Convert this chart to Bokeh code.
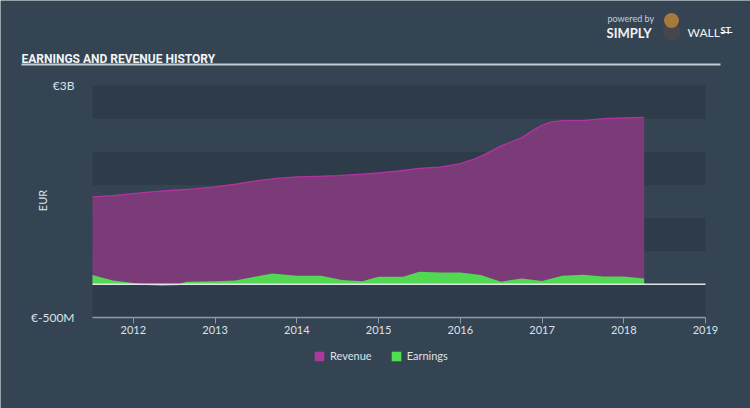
import numpy as np
from bokeh.plotting import figure
from bokeh.models import Range1d, FixedTicker, BoxAnnotation, Legend, LegendItem
from bokeh.core.properties import value
from bokeh.embed import file_html
from bokeh.resources import INLINE

# ---- data (EUR billions) ----
rev_t = [2011.5, 2011.75, 2012.0, 2012.25, 2012.5, 2012.75, 2013.0, 2013.25, 2013.5,
         2013.75, 2014.0, 2014.25, 2014.5, 2014.75, 2015.0, 2015.25, 2015.5, 2015.75,
         2016.0, 2016.15, 2016.3, 2016.5, 2016.75, 2016.9, 2017.0, 2017.12, 2017.25,
         2017.5, 2017.75, 2018.0, 2018.25]
revenue = [1.32, 1.34, 1.37, 1.40, 1.42, 1.44, 1.47, 1.51, 1.56,
           1.60, 1.62, 1.63, 1.64, 1.66, 1.68, 1.71, 1.75, 1.77,
           1.82, 1.88, 1.96, 2.09, 2.21, 2.33, 2.40, 2.45, 2.47,
           2.47, 2.50, 2.51, 2.52]

earn_t = [2011.5, 2011.75, 2012.0, 2012.15, 2012.35, 2012.55, 2012.65, 2013.0, 2013.25,
          2013.5, 2013.7, 2014.0, 2014.3, 2014.55, 2014.8, 2015.0, 2015.3, 2015.5,
          2015.75, 2016.0, 2016.25, 2016.5, 2016.75, 2017.0, 2017.25, 2017.5, 2017.75,
          2018.0, 2018.25]
earnings = [0.14, 0.06, 0.02, -0.01, -0.025, -0.015, 0.04, 0.045, 0.06,
            0.12, 0.165, 0.13, 0.13, 0.065, 0.045, 0.115, 0.115, 0.19,
            0.18, 0.18, 0.14, 0.04, 0.09, 0.05, 0.13, 0.145, 0.12,
            0.12, 0.09]

x_start, x_end = 2011.5, 2019.0
y_min, y_max = -0.5, 3.0
year_ticks = [2012, 2013, 2014, 2015, 2016, 2017, 2018, 2019]
y_ticks = [-0.5, 3.0]
y_tick_labels = {-0.5: "€-500M", 3.0: "€3B"}
band_bottoms = [2.5, 1.5, 0.5, -0.5]

BG = "#344453"
DARK = "#2e3c4a"
TXT = "#dde2e7"

# ---- layout (canvas pixels); the frame covers the whole canvas ----
W, H = 750, 408
DATA_L, DATA_R, DATA_T, DATA_B = 92, 705, 85, 317
ppx = (DATA_R - DATA_L) / (x_end - x_start)
ppy = (DATA_B - DATA_T) / (y_max - y_min)
xr = Range1d(x_start - DATA_L / ppx, x_end + (W - DATA_R) / ppx)
yr = Range1d(y_min - (H - DATA_B) / ppy, y_max + DATA_T / ppy)


def cx(px):
    return xr.start + px / ppx


def cy(py):
    return yr.end - py / ppy


p = figure(width=W, height=H, output_backend="svg", toolbar_location=None,
           x_range=xr, y_range=yr,
           min_border=0, min_border_left=0, min_border_right=0,
           min_border_top=0, min_border_bottom=0)
p.background_fill_color = BG
p.border_fill_color = BG
p.outline_line_color = None
p.xgrid.visible = False
p.ygrid.visible = False

# alternating bands
for lo in band_bottoms:
    p.add_layout(BoxAnnotation(left=x_start, right=x_end, bottom=lo, top=lo + 0.5,
                               fill_color=DARK, fill_alpha=1, line_color=None,
                               level="underlay"))

# revenue area + line
p.varea(x=rev_t, y1=[0] * len(rev_t), y2=revenue, fill_color="#7b3a78", fill_alpha=1)
p.line(x=rev_t, y=revenue, line_color="#b4329f", line_width=1.3)

# earnings area
e = np.array(earnings)
p.varea(x=earn_t, y1=0, y2=np.maximum(e, 0), fill_color="#52d852")
p.varea(x=earn_t, y1=0, y2=np.minimum(e, 0), fill_color="#e2553f")

# zero line
p.segment(x0=[x_start], y0=[0], x1=[x_end], y1=[0], line_color="#dfe4ea", line_width=1.5)

# x axis, drawn at the bottom of the plotting area
xa = p.xaxis[0]
xa.fixed_location = y_min
xa.ticker = FixedTicker(ticks=year_ticks)
xa.bounds = (x_start, x_end)
xa.axis_line_color = "#8d9aa8"
xa.axis_line_width = 1.5
xa.major_tick_line_color = "#8d9aa8"
xa.major_tick_in = 0
xa.major_tick_out = 6
xa.minor_tick_line_color = None
xa.major_label_text_color = TXT
xa.major_label_text_font = "Lato"
xa.major_label_text_font_size = "11px"
xa.major_label_standoff = 2

# y axis, drawn at the left of the plotting area
ya = p.yaxis[0]
ya.fixed_location = x_start
ya.ticker = FixedTicker(ticks=y_ticks)
ya.major_label_overrides = y_tick_labels
ya.axis_line_color = None
ya.major_tick_line_color = None
ya.minor_tick_line_color = None
ya.major_label_text_color = TXT
ya.major_label_text_font = "Lato"
ya.major_label_text_font_size = "12px"
ya.major_label_standoff = 12

# EUR axis title
p.text(x=[cx(42)], y=[cy(200)], text=["EUR"], angle=np.pi / 2, text_color=TXT,
       text_font=value("Lato"), text_font_size="11px", text_align="center",
       text_baseline="middle")

# header: title, rule and logo
p.text(x=[cx(21)], y=[cy(58)], text=["EARNINGS AND REVENUE HISTORY"],
       text_color="#f2f4f6", text_font=value("Roboto"),
       text_font_style="bold", text_font_size="12px", text_baseline="alphabetic")
p.segment(x0=[cx(21)], y0=[cy(64)], x1=[cx(720)], y1=[cy(64)],
          line_color="#c3cbd3", line_width=2)
p.text(x=[cx(607)], y=[cy(18)], text=["powered by"], text_color="#c9ced4",
       text_font=value("Lato"), text_font_size="9px", text_baseline="alphabetic")
p.text(x=[cx(606)], y=[cy(32)], text=["SIMPLY"], text_color="#f0f2f4",
       text_font=value("Lato"), text_font_style="bold", text_font_size="13px",
       text_baseline="alphabetic")
p.scatter(x=[cx(671)], y=[cy(31)], size=18, marker="circle", fill_color="#45474c",
          line_color=None)
p.scatter(x=[cx(671)], y=[cy(20)], size=15, marker="circle", fill_color="#a8793c",
          line_color=None)
p.text(x=[cx(687)], y=[cy(32)], text=["WALL"], text_color="#f0f2f4",
       text_font=value("Lato"), text_font_size="12px", text_baseline="alphabetic")
p.text(x=[cx(720)], y=[cy(30)], text=["ST"], text_color="#f0f2f4",
       text_font=value("Lato"), text_font_style="bold", text_font_size="9px",
       text_baseline="alphabetic")
p.segment(x0=[cx(720)], y0=[cy(32)], x1=[cx(732)], y1=[cy(32)],
          line_color="#f0f2f4", line_width=1)

# legend below the chart (swatches in full colour)
lr = p.varea(x=[x_start, x_start], y1=[0, 0], y2=[0, 0], fill_color="#a93a97")
lg = p.varea(x=[x_start, x_start], y1=[0, 0], y2=[0, 0], fill_color="#4fe04f")
legend = Legend(items=[LegendItem(label="Revenue", renderers=[lr]),
                       LegendItem(label="Earnings", renderers=[lg])],
                orientation="horizontal", location=(313, H - 362),
                background_fill_alpha=0, border_line_color=None,
                padding=0, margin=0, spacing=18, glyph_width=12, glyph_height=12,
                label_standoff=5, label_text_color=TXT, label_text_font="Lato",
                label_text_font_size="11px", label_height=12)
p.add_layout(legend, "center")

open("out.html", "w").write(file_html(p, INLINE))
